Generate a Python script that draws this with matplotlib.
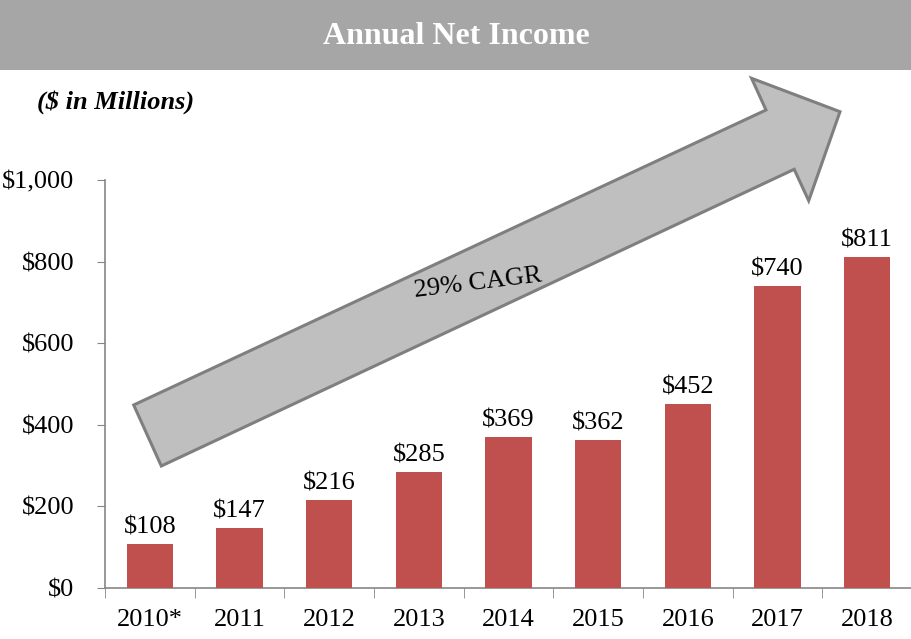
import matplotlib.pyplot as plt
from matplotlib.patches import Rectangle, Polygon

# --------- DADOS ----------
anos = ["2010*", "2011", "2012", "2013", "2014", "2015", "2016", "2017", "2018"]
lucro = [108, 147, 216, 285, 369, 362, 452, 740, 811]
yticks = [0, 200, 400, 600, 800, 1000]

# --------- ESTILO ----------
plt.rcParams["font.family"] = ["Liberation Serif", "DejaVu Serif"]
BAR_COLOR = "#C0504D"
AXIS_GRAY = "#868686"
FS = 19

W, H = 912, 639
fig = plt.figure(figsize=(W / 100, H / 100), dpi=100)
fig.patch.set_facecolor("white")


def px(x, y):
    # pixel (origem no topo) -> fracao da figura
    return x / W, 1 - y / H


# faixa de titulo
fig.patches.append(Rectangle((0, px(0, 70)[1]), 1, 70 / H, transform=fig.transFigure,
                             facecolor="#A6A6A6", edgecolor="none", zorder=0))
fig.text(0.5, px(0, 37)[1], "Annual Net Income", ha="center", va="center",
         fontsize=23, fontweight="bold", color="white")
fig.text(px(37, 0)[0], px(0, 102)[1], "($ in Millions)", ha="left", va="center",
         fontsize=19, fontweight="bold", fontstyle="italic")

# eixo principal
ax = fig.add_axes([105 / W, (H - 588) / H, (W - 105) / W, (588 - 180) / H])
x = range(len(anos))
bars = ax.bar(x, lucro, width=0.52, color=BAR_COLOR, zorder=3)
ax.bar_label(bars, labels=[f"${v}" for v in lucro], padding=4, fontsize=FS)

ax.set_xlim(-0.5, len(anos) - 0.5)
ax.set_ylim(0, 1000)
ax.set_yticks(yticks)
ax.set_yticklabels([f"${v:,}" for v in yticks], fontsize=FS)
ax.set_xticks(list(x))
ax.set_xticklabels(anos, fontsize=FS)
ax.set_xticks([i - 0.5 for i in range(len(anos) + 1)], minor=True)

ax.tick_params(axis="x", which="major", length=0, pad=15)
ax.tick_params(axis="x", which="minor", length=7, color=AXIS_GRAY, direction="out")
ax.tick_params(axis="y", length=6, color=AXIS_GRAY, direction="out", pad=16)

for s in ["top", "right"]:
    ax.spines[s].set_visible(False)
for s in ["left", "bottom"]:
    ax.spines[s].set_color(AXIS_GRAY)
    ax.spines[s].set_linewidth(1.2)

# seta CAGR (decoracao em pixels da figura)
seta_px = [(133.7, 405), (766, 110), (751.6, 78.3), (840, 111.7),
           (808.7, 200.7), (794.2, 169.3), (161.3, 466)]
seta = Polygon([px(a, b) for a, b in seta_px], closed=True, transform=fig.transFigure,
               facecolor="#BFBFBF", edgecolor="#7F7F7F", linewidth=2.2, zorder=5)
fig.patches.append(seta)
fig.text(*px(478, 283), "29% CAGR", ha="center", va="center", rotation=7,
         rotation_mode="anchor", fontsize=FS, zorder=6)

plt.savefig("out.png", dpi=100, facecolor=fig.get_facecolor())
